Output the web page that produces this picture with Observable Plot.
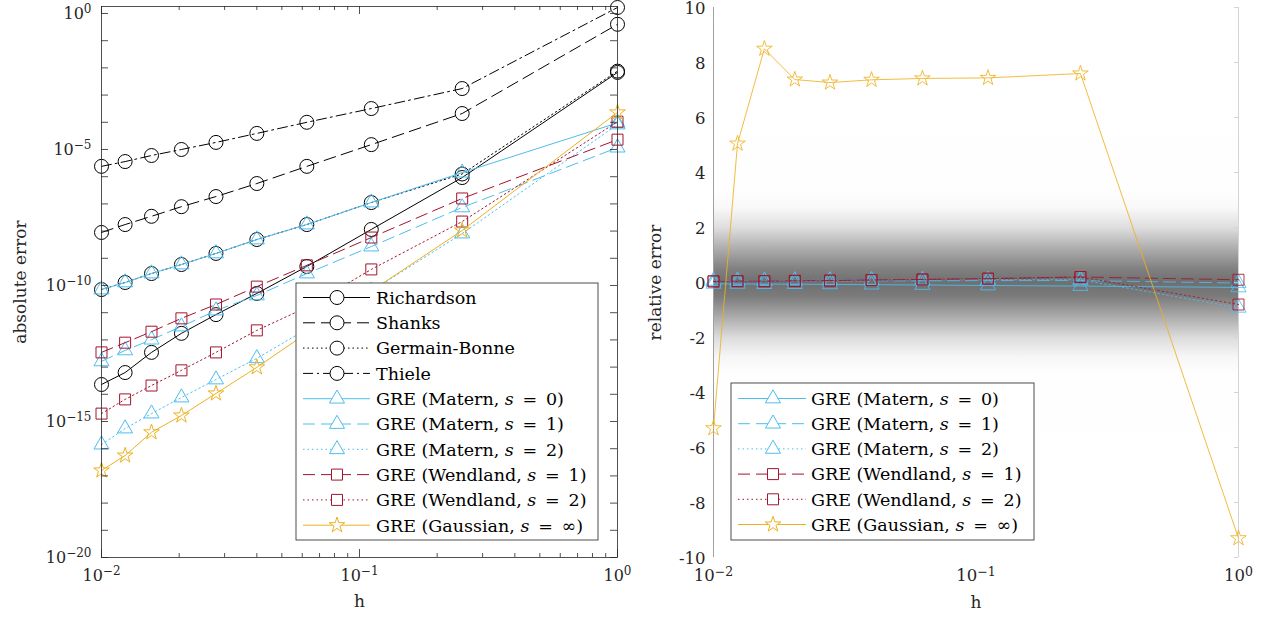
<!DOCTYPE html>
<html><head><meta charset="utf-8">
<script src="https://cdn.jsdelivr.net/npm/d3@7"></script>
<script src="https://cdn.jsdelivr.net/npm/@observablehq/plot@0.6"></script>
<style>
body{margin:0;background:#fff;}
#wrap{position:relative;width:1266px;height:623px;overflow:hidden;background:#fff;}
#left{position:absolute;left:0;top:0;}
#right{position:absolute;left:640px;top:0;}
#wrap svg, #wrap svg text, #wrap svg tspan { font-family: "DejaVu Serif", "Liberation Serif", "Times New Roman", serif !important; }
</style></head><body><div id="wrap"><div id="left"></div><div id="right"></div></div>
<script>
// ---------- data ----------
const h = [0.01, 0.012346, 0.015625, 0.020408, 0.027778, 0.04, 0.0625, 0.111111, 0.25, 1];

// absolute error (left panel)
const richardsonAbs = [2.29e-14, 6.3e-14, 3.47e-13, 1.74e-12, 8.5e-12, 5.1e-11, 5.0e-10, 1.15e-8, 9.3e-7, 6.8e-3];
const shanksAbs     = [8.9e-9, 1.74e-8, 3.5e-8, 7.9e-8, 1.86e-7, 5.6e-7, 2.4e-6, 1.51e-5, 2.1e-4, 0.40];
const germainAbs    = [7.1e-11, 1.29e-10, 2.75e-10, 5.9e-10, 1.51e-9, 4.9e-9, 1.74e-8, 1.12e-7, 1.26e-6, 7.6e-3];
const thieleAbs     = [2.4e-6, 3.6e-6, 6.0e-6, 1.0e-5, 1.82e-5, 3.9e-5, 1.0e-4, 3.2e-4, 1.74e-3, 1.66];
const matern0Abs    = [7.1e-11, 1.29e-10, 2.75e-10, 5.9e-10, 1.51e-9, 4.9e-9, 1.74e-8, 1.12e-7, 1.41e-6, 9.5e-5];
const matern1Abs    = [1.62e-13, 4.1e-13, 1.02e-12, 3.1e-12, 1.2e-11, 4.3e-11, 2.75e-10, 2.7e-9, 7.4e-8, 1.17e-5];
const matern2Abs    = [1.41e-16, 5.5e-16, 1.95e-15, 7.6e-15, 3.5e-14, 2.1e-13, 2.5e-12, 6.3e-11, 8.1e-9, 8.3e-5];
const wend1Abs      = [3.47e-13, 7.9e-13, 2.0e-12, 6.2e-12, 2.0e-11, 9.1e-11, 5.5e-10, 5.8e-9, 1.58e-7, 2.3e-5];
const wend2Abs      = [1.95e-15, 6.5e-15, 2.1e-14, 7.6e-14, 3.47e-13, 2.24e-12, 1.58e-11, 3.9e-10, 2.24e-8, 1.05e-4];
const gaussAbs      = [1.58e-17, 5.6e-17, 4.0e-16, 1.66e-15, 1.07e-14, 9.8e-14, 1.78e-12, 6.3e-11, 1.05e-8, 2.3e-4];

// relative error (right panel)
const matern0Rel = [-0.05, -0.05, -0.06, -0.06, -0.07, -0.08, -0.09, -0.11, -0.13, -0.18];
const matern1Rel = [0.03, 0.04, 0.05, 0.05, 0.06, 0.06, 0.06, 0.07, 0.07, -0.02];
const matern2Rel = [0.06, 0.07, 0.07, 0.08, 0.08, 0.09, 0.10, 0.10, 0.10, -0.92];
const wend1Rel   = [0.04, 0.05, 0.05, 0.06, 0.07, 0.09, 0.11, 0.14, 0.20, 0.10];
const wend2Rel   = [0.04, 0.05, 0.05, 0.06, 0.07, 0.09, 0.11, 0.14, 0.20, -0.80];
const gaussRel   = [-5.3, 5.05, 8.5, 7.38, 7.27, 7.37, 7.42, 7.44, 7.6, -9.3];

const absNames = ["Richardson", "Shanks", "Germain-Bonne", "Thiele",
  "GRE (Matern, s = 0)", "GRE (Matern, s = 1)", "GRE (Matern, s = 2)",
  "GRE (Wendland, s = 1)", "GRE (Wendland, s = 2)", "GRE (Gaussian, s = ∞)"];
const absValues = [richardsonAbs, shanksAbs, germainAbs, thieleAbs, matern0Abs, matern1Abs, matern2Abs, wend1Abs, wend2Abs, gaussAbs];
const relNames = absNames.slice(4);
const relValues = [matern0Rel, matern1Rel, matern2Rel, wend1Rel, wend2Rel, gaussRel];

// axis ticks
const xMajor = [0.01, 0.1, 1];
const xMinor = [0.02,0.03,0.04,0.05,0.06,0.07,0.08,0.09,0.2,0.3,0.4,0.5,0.6,0.7,0.8,0.9];
const yDecades = [1e-20,1e-19,1e-18,1e-17,1e-16,1e-15,1e-14,1e-13,1e-12,1e-11,1e-10,1e-9,1e-8,1e-7,1e-6,1e-5,1e-4,1e-3,1e-2,1e-1,1];
const yLabelsAbs = [1e-20, 1e-15, 1e-10, 1e-5, 1];
const yTicksRel = [-10,-8,-6,-4,-2,0,2,4,6,8,10];

// ---------- styles ----------
const CYAN = "#4DBEEE", RED = "#A2142F", ORANGE = "#EDB120", BLACK = "#000000";
const DASH = "12,6", DOT = "1.5,3", DASHDOT = "10,4,2,4";
const styles = {
  "Richardson": {color: BLACK, dash: null, symbol: "circle", r: 7},
  "Shanks": {color: BLACK, dash: DASH, symbol: "circle", r: 7},
  "Germain-Bonne": {color: BLACK, dash: DOT, symbol: "circle", r: 7},
  "Thiele": {color: BLACK, dash: DASHDOT, symbol: "circle", r: 7},
  "GRE (Matern, s = 0)": {color: CYAN, dash: null, symbol: "triangle", r: 5.6},
  "GRE (Matern, s = 1)": {color: CYAN, dash: DASH, symbol: "triangle", r: 5.6},
  "GRE (Matern, s = 2)": {color: CYAN, dash: DOT, symbol: "triangle", r: 5.6},
  "GRE (Wendland, s = 1)": {color: RED, dash: DASH, symbol: "square", r: 6.2},
  "GRE (Wendland, s = 2)": {color: RED, dash: DOT, symbol: "square", r: 6.2},
  "GRE (Gaussian, s = ∞)": {color: ORANGE, dash: null, symbol: "star", r: 4.9}
};
const FONT = "DejaVu Serif, Liberation Serif, serif";
const TXT = "#262626";
const LEG = 17.5, TICK_L = 16, TICK_R = 16.5, LAB = 17;

function rowsOf(names, arrays) {
  return names.flatMap((n, i) => h.map((x, j) => ({series: n, h: x, v: arrays[i][j]})));
}
function seriesMarks(rows, names, opacity) {
  const out = [];
  for (const n of names) {
    const st = styles[n];
    const d = rows.filter(r => r.series === n);
    out.push(Plot.line(d, {x: "h", y: "v", stroke: st.color, strokeWidth: 1, strokeDasharray: st.dash || undefined, strokeOpacity: opacity}));
    out.push(Plot.dot(d, {x: "h", y: "v", symbol: st.symbol, r: st.r, stroke: st.color, fill: "none", strokeWidth: 1, strokeOpacity: opacity}));
  }
  return out;
}
const pow10 = d => "10^" + Math.round(Math.log10(d));

function supify(svg, supSize) {
  d3.select(svg).selectAll("text").each(function() {
    const t = this.textContent;
    const m = /^10\^(-?\d+)$/.exec(t);
    if (!m) return;
    const sel = d3.select(this);
    sel.selectAll("*").remove();
    sel.text(null);
    sel.append("tspan").text("10");
    sel.append("tspan").attr("dy", "-0.45em").attr("font-size", supSize + "px").text(m[1].replace("-", "−"));
  });
}
const symType = {circle: d3.symbolCircle, triangle: d3.symbolTriangle, square: d3.symbolSquare, star: d3.symbolStar};
function drawLegend(svg, names, L) {
  const g = d3.select(svg).append("g").attr("font-family", FONT).attr("font-size", LEG).attr("text-anchor", "start");
  g.append("rect").attr("x", L.x).attr("y", L.y).attr("width", L.w).attr("height", L.h)
    .attr("fill", "#fff").attr("stroke", "#3a3a3a").attr("stroke-width", 0.9);
  names.forEach((n, i) => {
    const st = styles[n];
    const cy = L.first + i * L.step;
    g.append("line").attr("x1", L.lx1).attr("x2", L.lx2).attr("y1", cy).attr("y2", cy)
      .attr("stroke", st.color).attr("stroke-width", 1).attr("stroke-dasharray", st.dash || null);
    g.append("path").attr("d", d3.symbol(symType[st.symbol], st.r * st.r * Math.PI)())
      .attr("transform", `translate(${L.mx},${cy})`).attr("fill", "#fff").attr("stroke", st.color).attr("stroke-width", 1);
    const t = g.append("text").attr("x", L.tx).attr("y", cy).attr("dy", "0.36em").attr("fill", "#000").attr("text-anchor", "start");
    const m = /^(.*)s = (.*)$/.exec(n);
    if (!m) t.text(n);
    else {
      t.append("tspan").text(m[1]);
      t.append("tspan").attr("font-style", "italic").text("s");
      t.append("tspan").text("\u2002=\u2002" + m[2]);
    }
  });
}

// ---------- left panel ----------
const absRows = rowsOf(absNames, absValues);
const FH_L = 551, FW_L = 516;
const left = Plot.plot({
  width: 640, height: 623,
  marginLeft: 101, marginRight: 23, marginTop: 6, marginBottom: 66,
  style: {fontFamily: FONT, fontSize: TICK_L + "px", color: TXT, background: "#fff", overflow: "visible"},
  x: {type: "log", domain: [0.01, 1]},
  y: {type: "log", domain: [1e-20, 1.807]},
  marks: [
    ...seriesMarks(absRows, absNames, 1),
    Plot.frame({stroke: TXT, strokeWidth: 0.8}),
    Plot.ruleX(xMajor, {x: d => d, insetTop: FH_L - 8, stroke: TXT, strokeWidth: 0.8}),
    Plot.ruleX(xMajor, {x: d => d, insetBottom: FH_L - 8, stroke: TXT, strokeWidth: 0.8}),
    Plot.ruleX(xMinor, {x: d => d, insetTop: FH_L - 4, stroke: TXT, strokeWidth: 0.8}),
    Plot.ruleX(xMinor, {x: d => d, insetBottom: FH_L - 4, stroke: TXT, strokeWidth: 0.8}),
    Plot.ruleY(yDecades, {y: d => d, insetRight: FW_L - 7, stroke: TXT, strokeWidth: 0.8}),
    Plot.ruleY(yDecades, {y: d => d, insetLeft: FW_L - 7, stroke: TXT, strokeWidth: 0.8}),
    Plot.axisX({ticks: xMajor, tickSize: 0, tickPadding: 12, tickFormat: pow10, label: null, fontSize: TICK_L}),
    Plot.axisY({ticks: yLabelsAbs, tickSize: 0, tickPadding: 10, tickFormat: pow10, label: null, fontSize: TICK_L}),
    Plot.text(["absolute error"], {text: d => d, frameAnchor: "left", textAnchor: "middle", dx: -81, rotate: -90, fontSize: LAB, fill: TXT}),
    Plot.text(["h"], {text: d => d, frameAnchor: "bottom", dy: 49, fontSize: LAB, fill: TXT})
  ]
});
supify(left, 12);
drawLegend(left, absNames, {x: 296, y: 283, w: 302, h: 257, first: 297.5, step: 25.3, lx1: 303, lx2: 370, mx: 337, tx: 376});
document.getElementById("left").appendChild(left);

// ---------- right panel ----------
const relRows = rowsOf(relNames, relValues);
const FW_R = 525;
const right = Plot.plot({
  width: 626, height: 623,
  marginLeft: 73, marginRight: 28, marginTop: 7, marginBottom: 66,
  style: {fontFamily: FONT, fontSize: TICK_R + "px", color: TXT, background: "#fff", overflow: "visible"},
  x: {type: "log", domain: [0.01, 1]},
  y: {domain: [-10, 10]},
  marks: [
    Plot.frame({fill: "url(#relgrad)", stroke: null}),
    Plot.ruleX([0.01], {x: d => d, stroke: "#a0a0a0", strokeWidth: 1}),
    Plot.ruleX([1], {x: d => d, stroke: "#d4d4d4", strokeWidth: 1}),
    Plot.ruleY(yTicksRel, {y: d => d, insetLeft: FW_R - 4, stroke: "#d4d4d4", strokeWidth: 1}),
    ...seriesMarks(relRows, relNames, 0.85),
    Plot.axisX({ticks: xMajor, tickSize: 0, tickPadding: 12, tickFormat: pow10, label: null, fontSize: TICK_R}),
    Plot.axisY({ticks: yTicksRel, tickSize: 0, tickPadding: 8, tickFormat: d => String(d), label: null, fontSize: TICK_R, dy: 1}),
    Plot.text(["relative error"], {text: d => d, frameAnchor: "left", textAnchor: "middle", dx: -58, rotate: -90, fontSize: LAB, fill: TXT}),
    Plot.text(["h"], {text: d => d, frameAnchor: "bottom", dy: 50, fontSize: LAB, fill: TXT})
  ]
});
// gradient definition for the shaded band around zero
const defs = d3.select(right).insert("defs", ":first-child");
const grad = defs.append("linearGradient").attr("id", "relgrad").attr("x1", 0).attr("y1", 0).attr("x2", 0).attr("y2", 1);
[[0, "#ffffff"], [0.335, "#fefefe"], [0.365, "#f8f8f8"], [0.40, "#dedede"], [0.44, "#ababab"], [0.475, "#818181"],
 [0.50, "#6f6f6f"], [0.525, "#7b7b7b"], [0.56, "#a8a8a8"], [0.60, "#dcdcdc"], [0.635, "#f6f6f6"], [0.665, "#fefefe"], [1, "#ffffff"]]
  .forEach(([o, c]) => grad.append("stop").attr("offset", o).attr("stop-color", c));
supify(right, 12.5);
drawLegend(right, relNames, {x: 91, y: 383, w: 303, h: 157, first: 398.5, step: 25.2, lx1: 98, lx2: 166, mx: 133, tx: 171});
document.getElementById("right").appendChild(right);
</script>
</body></html>
